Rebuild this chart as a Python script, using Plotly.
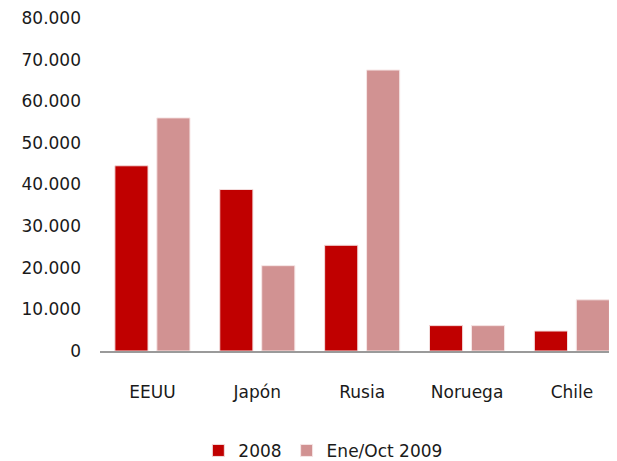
import plotly.graph_objects as go

categories = ["EEUU", "Japón", "Rusia", "Noruega", "Chile"]
series_2008 = [44500, 38800, 25400, 6100, 4800]
series_2009 = [56000, 20500, 67500, 6100, 12300]
series_names = ["2008", "Ene/Oct 2009"]
y_ticks = [0, 10000, 20000, 30000, 40000, 50000, 60000, 70000, 80000]

FONT = "DejaVu Sans"

fig = go.Figure()
fig.add_trace(go.Bar(
    x=categories, y=series_2008, name=series_names[0],
    marker=dict(color="#C00000", line=dict(color="#F3DCDC", width=1)),
))
fig.add_trace(go.Bar(
    x=categories, y=series_2009, name=series_names[1],
    marker=dict(color="#D19292", line=dict(color="#F6E6E6", width=1)),
))

# page body has an 8px margin, so the figure is sized/placed to compensate
fig.update_layout(
    width=609, height=453,
    margin=dict(l=92, r=0, t=10, b=110, autoexpand=False),
    paper_bgcolor="white", plot_bgcolor="white",
    barmode="group", bargap=0.2, bargroupgap=0.21,
    separators=",.",
    font=dict(family=FONT, size=17, color="#1a1a1a"),
    showlegend=True,
    legend=dict(orientation="h", x=0.432, xanchor="center", y=-0.30, yanchor="middle",
                font=dict(family=FONT, size=17, color="#1a1a1a"),
                itemwidth=30, traceorder="normal"),
    xaxis=dict(range=[-0.5, 4.43], showline=True, linecolor="#9a9a9a", linewidth=2,
               ticks="", showgrid=False, ticklabelstandoff=25, automargin=False),
    yaxis=dict(range=[0, 80000], tickvals=y_ticks, tickformat=",d", showline=False,
               showgrid=False, zeroline=False, ticks="", ticklabelstandoff=18,
               automargin=False, ticklabeloverflow="allow"),
)

fig.write_html("out.html")
